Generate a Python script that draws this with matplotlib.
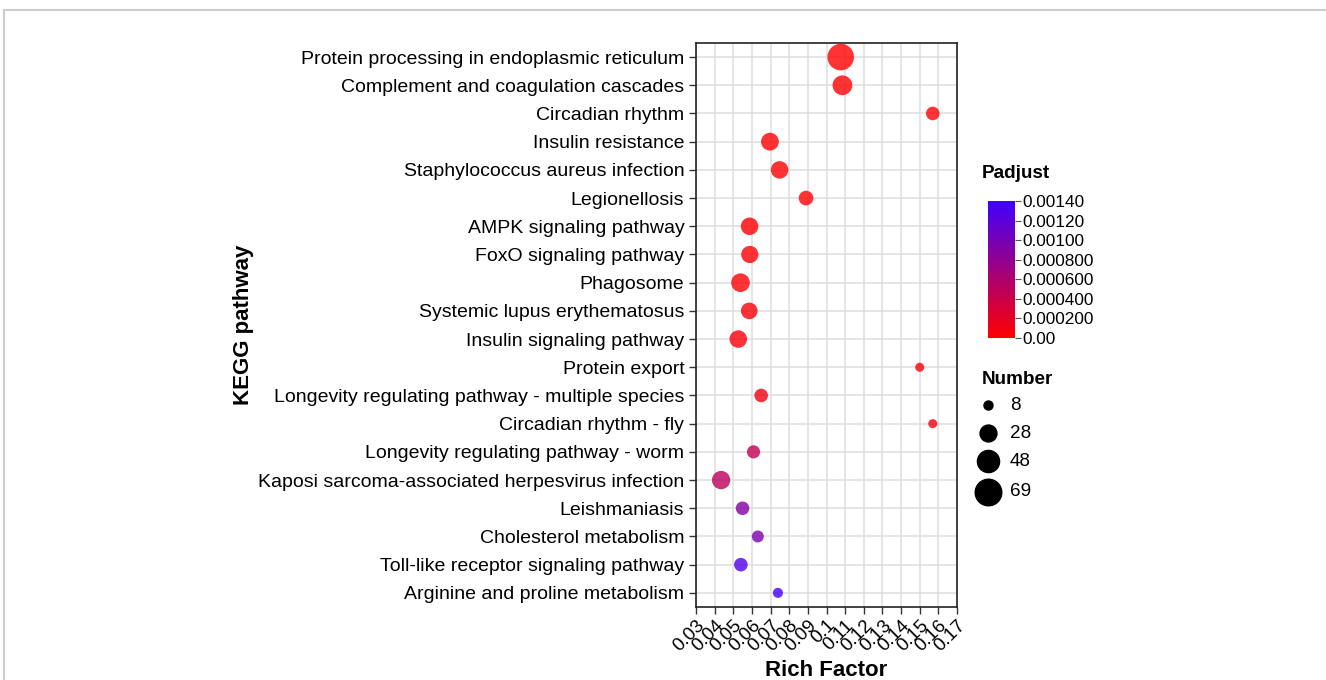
import numpy as np
import matplotlib
matplotlib.use('Agg')
import matplotlib.pyplot as plt
from matplotlib.colors import LinearSegmentedColormap, Normalize

plt.rcParams['font.family'] = ['Liberation Sans', 'DejaVu Sans']

# ======== Data ===================================

pathways = [
    'Protein processing in endoplasmic reticulum',
    'Complement and coagulation cascades',
    'Circadian rhythm',
    'Insulin resistance',
    'Staphylococcus aureus infection',
    'Legionellosis',
    'AMPK signaling pathway',
    'FoxO signaling pathway',
    'Phagosome',
    'Systemic lupus erythematosus',
    'Insulin signaling pathway',
    'Protein export',
    'Longevity regulating pathway - multiple species',
    'Circadian rhythm - fly',
    'Longevity regulating pathway - worm',
    'Kaposi sarcoma-associated herpesvirus infection',
    'Leishmaniasis',
    'Cholesterol metabolism',
    'Toll-like receptor signaling pathway',
    'Arginine and proline metabolism',
]
rich_factor = [0.1076, 0.1085, 0.157, 0.0696, 0.0748, 0.089, 0.0587, 0.0588, 0.0538, 0.0585,
               0.0526, 0.150, 0.0649, 0.157, 0.0608, 0.0434, 0.0549, 0.0631, 0.054, 0.0739]
number = [69, 38, 18, 31, 30, 21, 30, 29, 34, 27,
          30, 8, 18, 8, 17, 33, 18, 14, 18, 10]
padjust = [0.0, 0.0, 0.00001, 0.00001, 0.00001, 0.00002, 0.00002, 0.00002, 0.00002, 0.00003,
           0.00004, 0.00005, 0.0001, 0.00007, 0.00045, 0.0005, 0.0009, 0.00095, 0.00128, 0.0014]

x_ticks = [0.03, 0.04, 0.05, 0.06, 0.07, 0.08, 0.09, 0.1, 0.11, 0.12, 0.13, 0.14, 0.15, 0.16, 0.17]
cbar_ticks = [0.0, 0.0002, 0.0004, 0.0006, 0.0008, 0.0010, 0.0012, 0.0014]
cbar_labels = ['0.00', '0.000200', '0.000400', '0.000600', '0.000800', '0.00100', '0.00120', '0.00140']
legend_sizes = [8, 28, 48, 69]

size_scale = 5.3  # points^2 per gene

# ======== Figure ===================================

fig = plt.figure(figsize=(13.26, 6.8), dpi=100)
ax = fig.add_axes([0.525, 0.1074, 0.1967, 0.8294])

# thin grey frame (top and left edges of the panel)
fig.add_artist(plt.Line2D([4 / 1326, 1], [1 - 10 / 680, 1 - 10 / 680], color='#cccccc',
                          linewidth=1.5, transform=fig.transFigure))
fig.add_artist(plt.Line2D([4 / 1326, 4 / 1326], [0, 1 - 10 / 680], color='#cccccc',
                          linewidth=1.5, transform=fig.transFigure))

cmap = LinearSegmentedColormap.from_list('padj', ['#FF0000', '#4000FF'])
norm = Normalize(vmin=0, vmax=0.0014)

y_pos = np.arange(len(pathways))
ax.scatter(rich_factor, y_pos, s=np.array(number) * size_scale, c=padjust, cmap=cmap, norm=norm,
           alpha=0.8, edgecolors='none', zorder=3)

ax.set_xlim(0.03, 0.17)
ax.set_ylim(len(pathways) - 0.5, -0.5)
ax.set_xticks(x_ticks)
ax.set_xticklabels([str(t) for t in x_ticks], rotation=45, ha='right', rotation_mode='anchor',
                   fontsize=13.5)
ax.set_yticks(y_pos)
ax.set_yticklabels(pathways, fontsize=14)
ax.grid(True, color='#e0e0e0', linewidth=1.2, zorder=0)
ax.set_axisbelow(True)
ax.tick_params(axis='both', length=5, width=1, color='#333333')
ax.tick_params(axis='x', pad=2)
for sp in ax.spines.values():
    sp.set_color('#222222')
    sp.set_linewidth(1.2)

ax.set_xlabel('Rich Factor', fontsize=16, fontweight='bold')
ax.set_ylabel('KEGG pathway', fontsize=16, fontweight='bold')
ax.yaxis.set_label_coords(-1.736, 0.5)
ax.yaxis.label.set_va('center')
ax.xaxis.set_label_coords(0.5, -0.112)
ax.xaxis.label.set_va('center')

# colorbar
cax = fig.add_axes([988 / 1326, 1 - 338 / 680, 27 / 1326, 137 / 680])
sm = plt.cm.ScalarMappable(norm=norm, cmap=cmap)
cb = fig.colorbar(sm, cax=cax, ticks=cbar_ticks)
cb.ax.set_yticklabels(cbar_labels, fontsize=12.4)
cb.outline.set_visible(False)
cb.ax.tick_params(length=4, width=0.8, color='#555555', pad=1)
fig.text(982 / 1326, 1 - 173 / 680, 'Padjust', fontsize=13.6, fontweight='bold', ha='left', va='center')

# size legend
fig.text(982 / 1326, 1 - 380 / 680, 'Number', fontsize=13.6, fontweight='bold', ha='left', va='center')
legend_y = [405, 433, 461, 492]
for n, yp in zip(legend_sizes, legend_y):
    fig.add_artist(plt.Line2D([988 / 1326], [1 - yp / 680], marker='o', color='black',
                              markersize=np.sqrt(n * size_scale), linestyle='none',
                              transform=fig.transFigure))
    fig.text(1010 / 1326, 1 - yp / 680, str(n), fontsize=13.6, ha='left', va='center')

fig.savefig('out.png', dpi=100)
